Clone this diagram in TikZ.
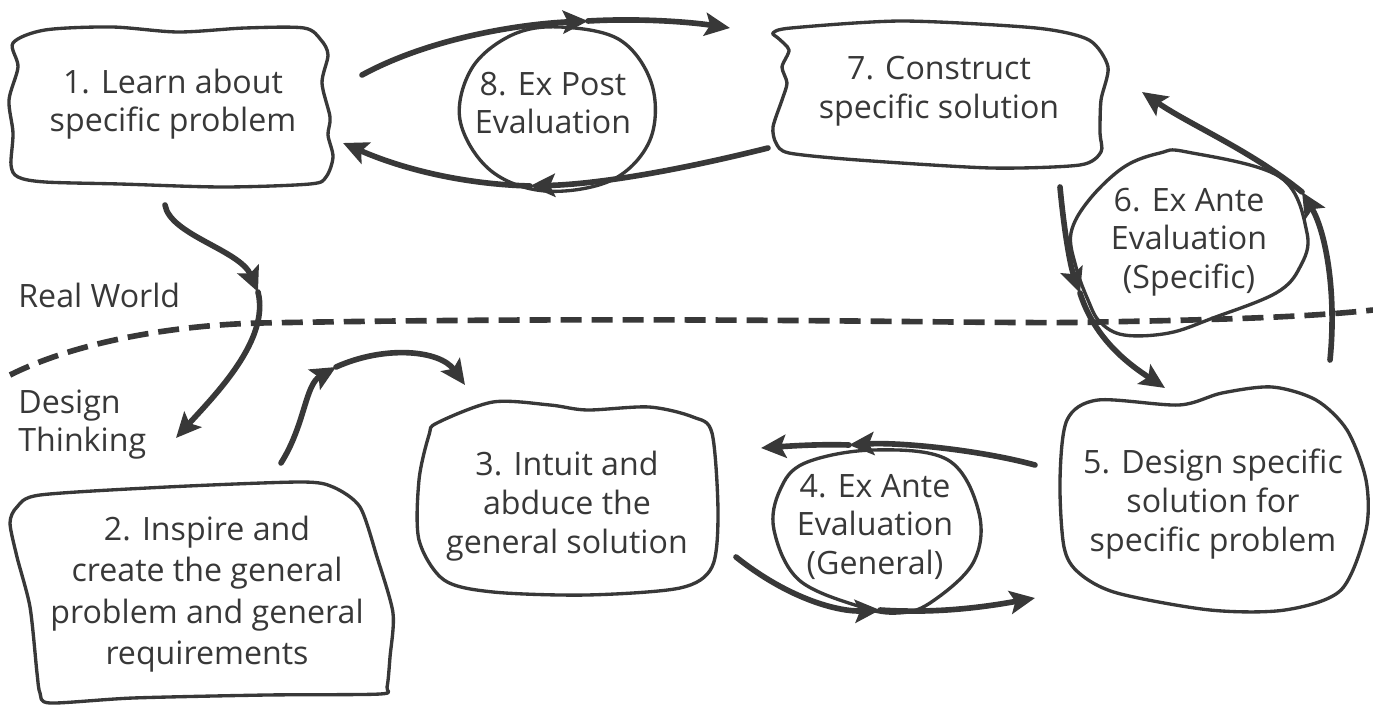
\documentclass[tikz,border=0pt]{standalone}
\usepackage{fontspec}
\setmainfont{Open Sans}
\usetikzlibrary{arrows.meta}
\definecolor{ink}{HTML}{383838}
\begin{document}
\begin{tikzpicture}[x=0.02cm,y=-0.02cm,
  outline/.style={draw=ink, line width=1.9pt, line join=round},
  lbl/.style={text=ink, font=\fontsize{18.3}{22}\selectfont, align=center, inner sep=0pt},
  side/.style={text=ink, font=\fontsize{18.3}{22}\selectfont, inner sep=0pt, anchor=base west},
  flow/.style={draw=ink, line width=3.2pt, line cap=round, -{Stealth[length=5mm,width=4.6mm,inset=1mm]}},
  border/.style={draw=ink, line width=3.2pt, dash pattern=on 0.42cm off 0.2cm}
]
\useasboundingbox[fill=white] (0,0) rectangle (1373,706);

% ---------- boundary ----------
\draw[border] (10,375) .. controls (80,340) and (180,325) .. (260,323)
  .. controls (700,315) and (1000,325) .. (1100,322)
  .. controls (1200,320) and (1300,318) .. (1373,310);

% ---------- shapes ----------
\draw[outline] plot[smooth cycle, tension=0.5] coordinates {(13,43) (45,30) (112,27) (178,32) (245,28) (304,28) (321,40) (328,55) (322,83) (330,117) (328,135) (333,157) (326,177) (310,184) (223,187) (120,184) (45,182) (18,177) (11,165) (13,133) (9,100) (18,67)};
\draw[outline] plot[smooth cycle, tension=0.6] coordinates {(560,27) (620,40) (652,85) (650,140) (612,180) (545,191) (490,170) (460,120) (472,68) (512,35)};
\draw[outline] plot[smooth cycle, tension=0.45] coordinates {(773,33) (791,28) (902,21) (1036,28) (1089,40) (1108,67) (1101,100) (1100,133) (1101,152) (1080,165) (991,168) (858,160) (789,153) (776,143) (773,127) (782,100) (787,83) (782,67) (789,50) (778,38)};
\draw[outline] plot[smooth cycle, tension=0.6] coordinates {(1187,152) (1280,177) (1307,233) (1300,267) (1276,293) (1213,318) (1169,333) (1124,335) (1100,322) (1088,300) (1076,267) (1071,233) (1089,200) (1124,167) (1160,153)};
\draw[outline] plot[smooth cycle, tension=0.5] coordinates {(437,423) (493,402) (550,405) (587,410) (649,407) (693,417) (712,433) (718,513) (712,567) (680,588) (587,595) (493,592) (444,580) (419,540) (419,480) (429,435)};
\draw[outline] plot[smooth cycle, tension=0.6] coordinates {(805,463) (873,450) (948,460) (979,513) (973,563) (930,603) (898,613) (861,607) (799,580) (774,530) (780,490)};
\draw[outline] plot[smooth cycle, tension=0.5] coordinates {(1179,405) (1098,400) (1067,420) (1060,480) (1064,547) (1079,573) (1117,593) (1210,610) (1285,610) (1341,590) (1366,530) (1366,480) (1347,430) (1316,400) (1272,387) (1222,393)};
\draw[outline] plot[smooth cycle, tension=0.45] coordinates {(10,523) (17,507) (40,495) (167,487) (300,482) (333,487) (360,507) (377,557) (393,613) (390,657) (387,687) (380,694) (267,695) (133,698) (50,703) (40,693) (37,673) (30,607) (17,557)};

% ---------- texts ----------
\node[lbl] (t1) at (173,104) {1. Learn about\\specific problem};
\node[lbl] (t8) at (553,103) {8. Ex Post\\Evaluation};
\node[lbl] (t7) at (939,91) {7. Construct\\specific solution};
\node[lbl] (t6) at (1189,242) {6. Ex Ante\\Evaluation\\(Specific)};
\node[lbl] (t5) at (1213,504) {5. Design specific\\solution for\\specific problem};
\node[lbl] (t4) at (875,527) {4. Ex Ante\\Evaluation\\(General)};
\node[lbl] (t3) at (567,506) {3. Intuit and\\abduce the\\general solution};
\node[lbl, font=\fontsize{18.3}{23.5}\selectfont] (t2) at (207,594) {2. Inspire and\\create the general\\problem and general\\requirements};
\node[side] (rw) at (18,307) {Real World};
\node[side] (dt1) at (18,413) {Design};
\node[side] (dt2) at (18,451) {Thinking};

% ---------- waypoints ----------
\coordinate (a1s) at (362,75);   \coordinate (a1m) at (588,21);  \coordinate (a1e) at (730,28);
\coordinate (a2s) at (768,148);  \coordinate (a2m) at (530,186); \coordinate (a2e) at (343,143);
\coordinate (a3s) at (165,205);  \coordinate (a3m) at (258,292); \coordinate (a3e) at (176,438);
\coordinate (a4s) at (281,463);  \coordinate (a4m) at (336,367); \coordinate (a4e) at (465,385);
\coordinate (a5s) at (736,557);  \coordinate (a5m) at (880,610); \coordinate (a5e) at (1035,598);
\coordinate (a6s) at (1035,465); \coordinate (a6m) at (849,445); \coordinate (a6e) at (761,448);
\coordinate (a7s) at (1060,187); \coordinate (a7m) at (1080,293); \coordinate (a7e) at (1165,388);
\coordinate (a8s) at (1330,360); \coordinate (a8m) at (1302,192); \coordinate (a8e) at (1142,92);

% ---------- arrows ----------
\draw[flow] (a1s) .. controls (430,38) and (520,24) .. (a1m);
\draw[flow] (a1m) .. controls (640,18) and (690,22) .. (a1e);
\draw[flow] (a2s) .. controls (680,170) and (600,184) .. (a2m);
\draw[flow] (a2m) .. controls (460,184) and (400,168) .. (a2e);
\draw[flow] (a3s) .. controls (170,235) and (240,250) .. (a3m);
\draw[flow] (a3m) .. controls (270,340) and (215,395) .. (a3e);
\draw[flow] (a4s) .. controls (305,425) and (305,385) .. (a4m);
\draw[flow] (a4m) .. controls (385,345) and (440,350) .. (a4e);
\draw[flow] (a5s) .. controls (790,600) and (840,612) .. (a5m);
\draw[flow] (a5m) .. controls (940,614) and (990,606) .. (a5e);
\draw[flow] (a6s) .. controls (980,450) and (900,442) .. (a6m);
\draw[flow] (a6m) .. controls (820,444) and (790,446) .. (a6e);
\draw[flow] (a7s) .. controls (1064,230) and (1070,265) .. (a7m);
\draw[flow] (a7m) .. controls (1095,340) and (1130,365) .. (a7e);
\draw[flow] (a8s) .. controls (1337,290) and (1325,230) .. (a8m);
\draw[flow] (a8m) .. controls (1250,150) and (1190,125) .. (a8e);
\end{tikzpicture}
\end{document}
